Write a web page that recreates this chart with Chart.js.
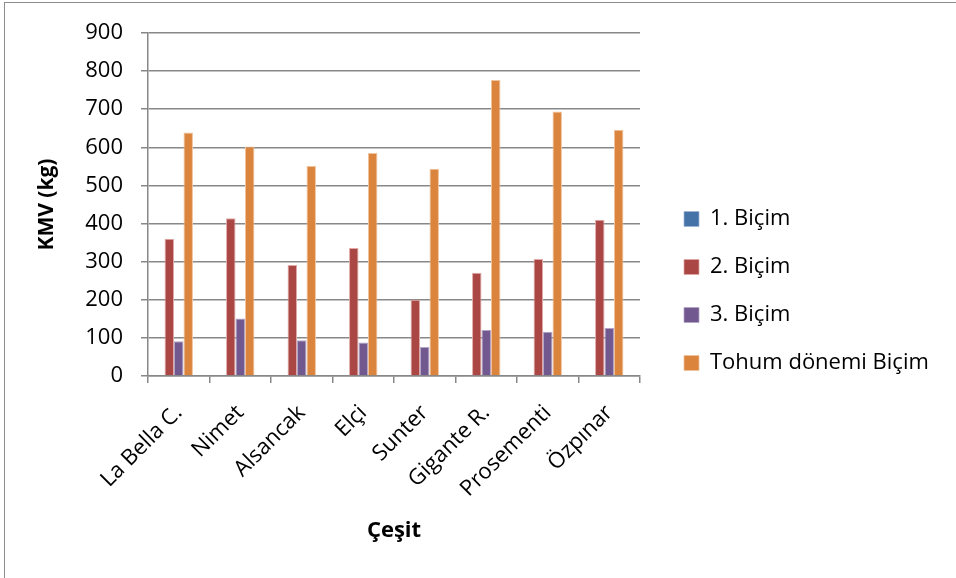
<!DOCTYPE html>
<html>
<head>
<meta charset="utf-8">
<script src="https://cdn.jsdelivr.net/npm/chart.js@4.4.1/dist/chart.umd.min.js"></script>
<style>
  html, body { margin: 0; padding: 0; background: #fff; }
  #wrap { position: relative; width: 956px; height: 578px; overflow: hidden; }
  #frame { position: absolute; left: 4px; top: 2px; width: 980px; height: 600px; border: 1px solid #8c8c8c; box-sizing: border-box; }
  canvas { position: absolute; left: 0; top: 0; }
</style>
</head>
<body>
<div id="wrap">
  <div id="frame"></div>
  <canvas id="chart" width="956" height="578"></canvas>
</div>
<script>
// Varieties and mean yields per cutting (kg)
const categories = ['La Bella C.', 'Nimet', 'Alsancak', 'Elçi', 'Sunter', 'Gigante R.', 'Prosementi', 'Özpınar'];
const cut1 = [null, null, null, null, null, null, null, null];
const cut2 = [360, 414, 291, 336, 200, 271, 307, 410];
const cut3 = [91, 151, 94, 88, 76, 121, 116, 126];
const seedCut = [639, 602, 551, 585, 544, 777, 694, 646];
const seriesNames = ['1. Biçim', '2. Biçim', '3. Biçim', 'Tohum dönemi Biçim'];
const yTicks = { min: 0, max: 900, step: 100 };

const FONT = "'Open Sans', 'Noto Sans', sans-serif";
const gridColor = '#888888';
const LEGEND_WIDTH = 298;

const series = [cut1, cut2, cut3, seedCut];
const fills = ['#4572A7', '#AA4643', '#71588F', '#DB843D'];
const edges = ['#9fb6d6', '#e0a8a6', '#b3a4c8', '#f1c39c'];

// Give the side legend a fixed width so the plot area keeps its place
const fixedLegendWidth = {
  id: 'fixedLegendWidth',
  beforeUpdate(chart) {
    const lg = chart.legend;
    if (lg && !lg._fixedFit) {
      const fit = lg.fit.bind(lg);
      lg.fit = function () { fit(); this.width = LEGEND_WIDTH; };
      lg._fixedFit = true;
    }
  }
};

new Chart(document.getElementById('chart'), {
  type: 'bar',
  data: {
    labels: categories,
    datasets: series.map((d, i) => ({
      label: seriesNames[i],
      data: d,
      backgroundColor: fills[i],
      borderColor: edges[i],
      borderWidth: { left: 1, right: 1, top: 1, bottom: 0 },
      skipNull: true,
      categoryPercentage: 0.462,
      barPercentage: 1.0
    }))
  },
  plugins: [fixedLegendWidth],
  options: {
    responsive: false,
    animation: false,
    layout: { padding: { top: 33, bottom: 29, left: 0, right: 0 } },
    plugins: {
      tooltip: { enabled: false },
      legend: {
        position: 'right',
        align: 'center',
        labels: {
          boxWidth: 15,
          boxHeight: 15,
          padding: 26,
          color: '#000',
          font: { family: FONT, size: 22 }
        }
      }
    },
    scales: {
      x: {
        grid: { display: true, offset: true, drawOnChartArea: false, drawTicks: true, tickLength: 7, color: gridColor, lineWidth: 1.5 },
        border: { display: true, color: gridColor, width: 1.5 },
        ticks: { color: '#000', font: { family: FONT, size: 22 }, minRotation: 45, maxRotation: 45, autoSkip: false, padding: 17 },
        title: { display: true, text: 'Çeşit', color: '#000', font: { family: FONT, size: 22, weight: 'bold' }, padding: { top: 0, bottom: 5 } },
        afterFit(s) { s.height = 173; }
      },
      y: {
        min: yTicks.min,
        max: yTicks.max,
        grid: { color: gridColor, lineWidth: 1.5, tickLength: 7 },
        border: { display: true, color: gridColor, width: 1.5 },
        ticks: { stepSize: yTicks.step, color: '#000', font: { family: FONT, size: 22 }, padding: 18 },
        title: { display: true, text: 'KMV (kg)', color: '#000', font: { family: FONT, size: 21, weight: 'bold' }, padding: { top: 34, bottom: 0 } },
        afterFit(s) { s.width = 148; }
      },
      gap: {
        position: 'right',
        display: true,
        grid: { display: false },
        border: { display: false },
        ticks: { display: false },
        afterFit(s) { s.width = 18; }
      }
    }
  }
});
</script>
</body>
</html>
